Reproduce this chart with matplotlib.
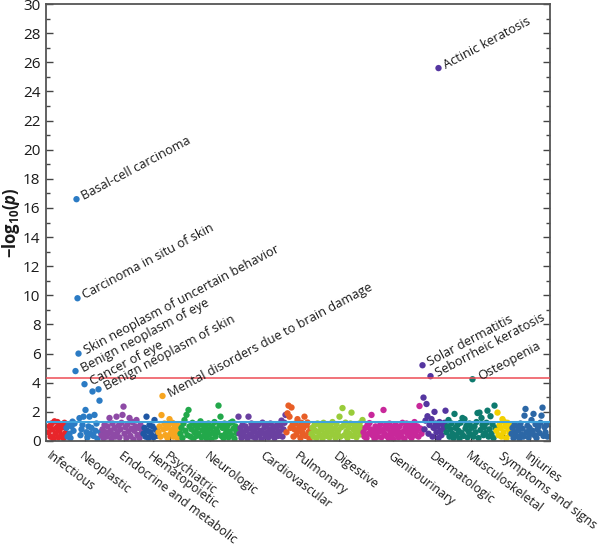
import matplotlib
matplotlib.use('Agg')
import matplotlib.pyplot as plt
from matplotlib.ticker import MultipleLocator

plt.rcParams['font.family'] = ['Open Sans', 'DejaVu Sans']
plt.rcParams['mathtext.fontset'] = 'custom'
plt.rcParams['mathtext.rm'] = 'Open Sans'
plt.rcParams['mathtext.bf'] = 'Open Sans:bold'
plt.rcParams['mathtext.it'] = 'Open Sans:italic'
try:
    plt.rcParams['mathtext.bfit'] = 'Open Sans:italic:bold'
except KeyError:
    pass

# ---------------- data ----------------
categories = ["Infectious", "Neoplastic", "Endocrine and metabolic", "Hematopoietic",
              "Psychiatric", "Neurologic", "Cardiovascular", "Pulmonary", "Digestive",
              "Genitourinary", "Dermatologic", "Musculoskeletal", "Symptoms and signs",
              "Injuries"]
colors = ["#e8252a", "#2b7bc4", "#8e4aa6", "#1f57a4", "#f7a520", "#22a84a", "#6a40a0",
          "#e85e26", "#99cc3a", "#c8289a", "#5536a0", "#0e7a6e", "#f2d000", "#2c67a6"]

infectious = [0.6, 1.0, 0.3, 1.2, 0.8, 0.15, 1.35, 0.5, 0.9, 1.3, 0.25, 0.7, 1.1, 0.4,
              0.95, 0.2, 1.25, 0.55]
neoplastic = [0.9, 0.3, 1.1, 0.5, 0.2, 1.0, 1.33, 0.7, 1.2, 4.8, 16.6, 9.8, 6.0, 1.57,
              0.4, 0.8, 1.1, 1.67, 3.9, 2.13, 0.6, 0.25, 1.0, 1.67, 0.5, 0.9, 3.4, 0.35,
              1.79, 0.7, 1.2, 0.15, 3.55, 2.77, 0.6]
endocrine = [0.4, 0.8, 0.2, 1.1, 0.6, 0.3, 1.0, 0.5, 1.58, 0.7, 0.15, 1.2, 0.45, 0.9,
             0.3, 1.67, 0.6, 1.05, 0.25, 0.8, 1.25, 1.79, 2.36, 0.5, 0.95, 0.2, 1.15,
             0.65, 1.58, 0.35, 0.85, 1.3, 0.1, 0.7, 1.0, 1.44, 0.4, 0.9, 0.2, 1.1, 0.55,
             0.75]
hematopoietic = [0.5, 0.9, 0.3, 1.67, 0.7, 0.2, 1.1, 0.6, 0.4, 1.0, 0.25, 1.44, 0.8,
                 0.35, 0.65]
psychiatric = [0.6, 1.0, 0.3, 1.78, 3.09, 0.8, 1.2, 0.4, 0.9, 0.2, 1.1, 1.5, 0.5, 0.75,
               1.25, 0.3, 0.95, 0.6, 1.15, 0.2, 0.7, 1.0]
neurologic = [0.5, 0.9, 0.2, 1.2, 1.44, 0.7, 1.79, 0.4, 2.13, 1.0, 0.3, 0.8, 1.25, 0.15,
              0.6, 1.05, 0.35, 0.9, 0.5, 1.15, 1.35, 0.25, 0.75, 1.1, 0.4, 0.95, 0.2,
              0.65, 1.2, 0.45, 0.85, 0.1, 1.0, 0.55, 1.3, 0.3, 0.8, 0.6, 2.43, 1.1, 1.67,
              0.35, 0.9, 0.2, 1.2, 0.5, 0.75, 1.05, 0.25, 0.65, 1.25, 0.4, 1.33, 0.85,
              0.15, 1.0, 0.55, 0.8]
cardiovascular = [1.67, 0.5, 0.9, 0.2, 1.1, 0.6, 0.35, 1.0, 0.75, 0.15, 1.67, 0.45, 0.85,
                  1.2, 0.3, 0.65, 1.05, 0.2, 0.9, 0.5, 1.15, 0.4, 0.7, 0.1, 1.26, 0.55,
                  0.95, 0.3, 1.1, 0.6, 0.25, 0.8, 1.2, 0.4, 0.7, 1.0, 0.2, 0.5, 0.9, 1.15,
                  0.35, 0.65, 1.05, 1.4, 0.3, 0.8, 1.25, 1.79]
pulmonary = [0.6, 1.9, 2.43, 1.67, 0.9, 2.3, 1.1, 0.3, 0.8, 1.2, 0.45, 1.5, 0.7, 1.0,
             0.2, 1.25, 0.55, 0.9, 1.67, 0.35, 1.1, 1.27, 0.6, 0.15, 0.85]
digestive = [0.5, 0.9, 0.3, 1.1, 0.7, 0.2, 1.2, 0.6, 0.4, 1.0, 0.8, 0.15, 1.25, 0.5, 0.9,
             0.35, 1.1, 0.7, 0.25, 1.0, 0.6, 1.3, 0.45, 0.85, 0.2, 1.15, 0.55, 0.75, 1.67,
             0.3, 0.95, 2.26, 1.05, 0.4, 1.26, 0.65, 0.2, 0.9, 0.5, 1.2, 1.95, 0.35, 0.8,
             1.1, 0.6, 0.25, 1.0, 0.7, 1.2, 0.45, 0.9, 1.44]
genitourinary = [0.6, 0.3, 0.9, 0.2, 1.1, 0.5, 1.23, 0.8, 1.79, 0.4, 0.7, 0.15, 1.0,
                 0.55, 0.3, 0.9, 0.65, 1.15, 0.25, 0.75, 2.13, 0.5, 1.05, 0.35, 0.85, 0.2,
                 1.2, 0.6, 0.4, 0.95, 0.1, 0.7, 1.1, 0.45, 0.8, 0.25, 1.0, 0.55, 0.3, 1.25,
                 0.65, 0.15, 0.9, 1.2, 0.5, 0.75, 0.35, 1.05, 0.2, 0.6, 0.9, 1.3, 0.4, 0.7,
                 1.0, 0.3, 2.4, 0.85, 0.5]
dermatologic = [5.2, 2.98, 0.8, 1.4, 2.54, 1.7, 0.5, 1.1, 4.45, 1.5, 0.3, 0.9, 2.0, 1.2,
                0.6, 1.0, 0.2, 1.3, 0.7, 0.4, 1.15, 0.85, 1.25, 2.08]
musculoskeletal = [0.6, 1.0, 1.44, 0.3, 0.8, 1.2, 0.5, 0.2, 1.86, 0.9, 0.4, 1.1, 0.7,
                   0.15, 1.25, 0.55, 1.58, 0.35, 1.5, 0.85, 1.05, 0.25, 0.65, 1.2, 0.45,
                   0.9, 4.24, 0.3, 1.0, 0.6, 1.3, 1.92, 0.2, 1.95, 0.75, 1.58, 1.1, 0.4,
                   0.95, 0.55, 1.25, 2.08, 0.3, 0.8, 1.7, 0.5, 1.15, 0.2, 2.43, 0.9]
symptoms = [0.7, 1.95, 0.4, 1.1, 0.9, 0.3, 1.5, 0.6, 1.3, 1.0, 0.2, 1.25, 0.8, 0.5, 1.15]
injuries = [0.5, 0.9, 0.2, 1.1, 0.6, 0.35, 1.0, 0.75, 0.15, 1.2, 0.45, 0.85, 0.3, 1.74,
            2.2, 0.6, 1.05, 0.25, 0.9, 0.5, 1.44, 0.7, 1.86, 0.4, 1.15, 0.2, 0.8, 1.0,
            0.55, 1.25, 1.74, 2.29, 0.35, 0.95, 0.6, 1.1, 0.3]

groups = [infectious, neoplastic, endocrine, hematopoietic, psychiatric, neurologic,
          cardiovascular, pulmonary, digestive, genitourinary, dermatologic,
          musculoskeletal, symptoms, injuries]

# category tick positions (phenotype index)
tick_positions = [3.5, 36.5, 75.5, 104.5, 121.5, 161.5, 216.5, 251.5, 290.5, 344.5,
                  386.5, 422.5, 455.5, 481.5]

# annotated phenotypes: (label, group index, position within group)
annotations = [
    ("Basal-cell carcinoma", 1, 10),
    ("Carcinoma in situ of skin", 1, 11),
    ("Skin neoplasm of uncertain behavior", 1, 12),
    ("Benign neoplasm of eye", 1, 9),
    ("Cancer of eye", 1, 18),
    ("Benign neoplasm of skin", 1, 32),
    ("Mental disorders due to brain damage", 4, 4),
    ("Actinic keratosis", 10, 16),
    ("Solar dermatitis", 10, 0),
    ("Seborrheic keratosis", 10, 8),
    ("Osteopenia", 11, 26),
]
actinic_value = 25.6
bonferroni = 4.31
nominal = 1.32

# ---------------- plot ----------------
fig = plt.figure(figsize=(6, 5.5), dpi=100)
ax = fig.add_axes([46 / 600, 1 - 441 / 550, 504 / 600, 437 / 550])

starts = []
pos = 0
for vals, col in zip(groups, colors):
    starts.append(pos)
    xs = [pos + k for k in range(len(vals))]
    ax.scatter(xs, vals, s=21, color=col, edgecolors='none', zorder=2)
    pos += len(vals)

# actinic keratosis (dermatologic outlier)
derm_x = starts[10] + 16
ax.scatter([derm_x], [actinic_value], s=21, color=colors[10], edgecolors='none', zorder=2)

ax.axhline(bonferroni, color="#ee4b55", lw=1.1, zorder=3)
ax.axhline(nominal, color="#3fa3dd", lw=1.5, zorder=3)

for label, g, k in annotations:
    x = starts[g] + k
    y = actinic_value if label == "Actinic keratosis" else groups[g][k]
    ax.annotate(label, xy=(x, y), xytext=(4.5, 1.5), textcoords='offset points',
                rotation=28, rotation_mode='anchor', ha='left', va='center',
                fontsize=9.2, color='#1a1a1a')

ax.set_xlim(-2.5, pos + 1.5)
ax.set_ylim(0, 30)
ax.yaxis.set_major_locator(MultipleLocator(2))
ax.yaxis.set_minor_locator(MultipleLocator(1))
ax.set_xticks(tick_positions)
ax.set_xticklabels(categories, rotation=-37, ha='left', va='top',
                   rotation_mode='anchor', fontsize=8.9, color='#1a1a1a')
ax.tick_params(axis='x', direction='in', length=5, width=1, pad=6, color='#231f20')
ax.tick_params(axis='y', which='major', direction='in', length=5, width=1,
               right=True, labelsize=11, color='#444444', labelcolor='#1a1a1a', pad=4)
ax.tick_params(axis='y', which='minor', direction='in', length=3, width=1, right=True,
               color='#444444')
for sp in ax.spines.values():
    sp.set_color('#555555')
    sp.set_linewidth(1.3)

ax.set_ylabel(r'$\mathbf{-log_{10}(}\mathbfit{p}\mathbf{)}$', fontsize=12, labelpad=0.5,
              color='#1a1a1a')

fig.savefig('out.png', dpi=100)
